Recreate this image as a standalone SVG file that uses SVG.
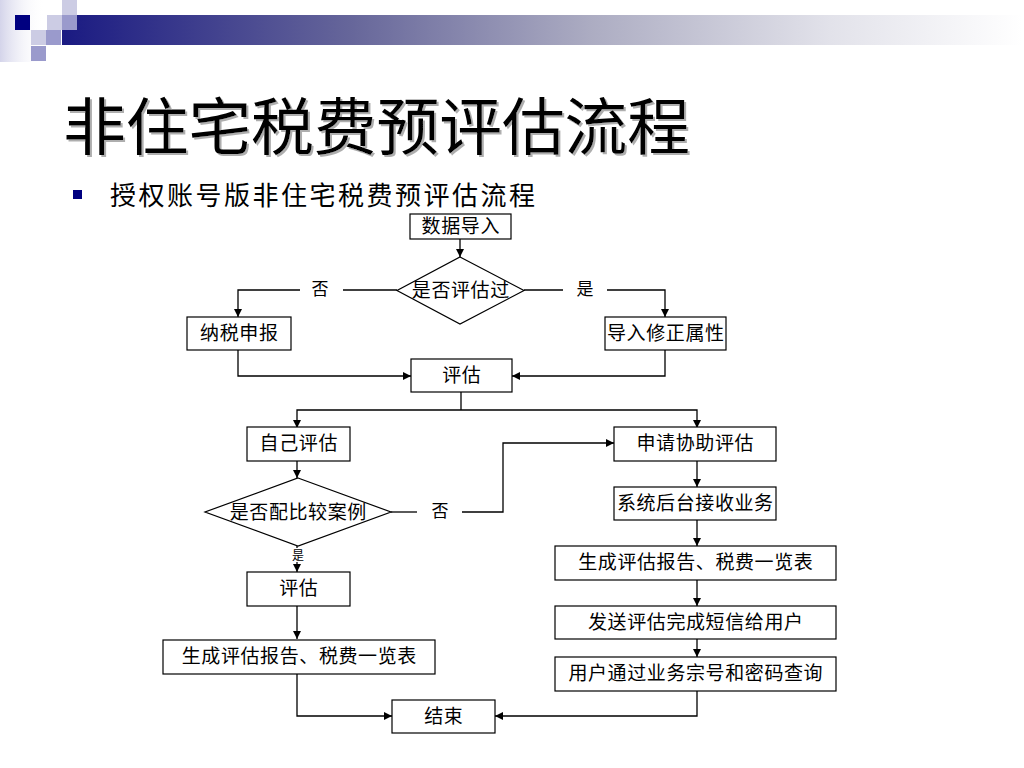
<svg xmlns="http://www.w3.org/2000/svg" width="1024" height="768" viewBox="0 0 1024 768">
<defs>
<linearGradient id="bar" x1="0" y1="0" x2="1" y2="0">
<stop offset="0" stop-color="#1a1a82"/>
<stop offset="0.3" stop-color="#66669a"/>
<stop offset="0.55" stop-color="#acacc2"/>
<stop offset="0.8" stop-color="#e2e2ea"/>
<stop offset="1" stop-color="#ffffff"/>
</linearGradient>
<linearGradient id="edge" x1="0" y1="0" x2="1" y2="0">
<stop offset="0" stop-color="#d4d4ea"/>
<stop offset="1" stop-color="#ffffff" stop-opacity="0"/>
</linearGradient>
<filter id="shadow" x="-5%" y="-10%" width="110%" height="130%">
<feDropShadow dx="2" dy="2" stdDeviation="0.6" flood-color="#9a9a9a" flood-opacity="0.8"/>
</filter>
<marker id="arr" viewBox="0 0 10 10" refX="10" refY="5" markerWidth="10" markerHeight="8" markerUnits="userSpaceOnUse" orient="auto">
<path d="M0,0 L10,5 L0,10 Z" fill="#000"/>
</marker>
</defs>
<style>
.box{fill:#fff;stroke:#000;stroke-width:1.2}
.t{font-family:"Noto Sans CJK SC","Noto Sans CJK JP",sans-serif;font-size:19px;fill:#000;text-anchor:middle;letter-spacing:0.6px}
.lbl{font-family:"Noto Sans CJK SC","Noto Sans CJK JP",sans-serif;font-size:17px;fill:#000;text-anchor:middle}
.c{fill:none;stroke:#000;stroke-width:1.3}
.ca{fill:none;stroke:#000;stroke-width:1.3;marker-end:url(#arr)}
</style>
<rect width="1024" height="768" fill="#fff"/>
<g id="decoration">
<rect x="0" y="0" width="45" height="62" fill="url(#edge)"/>
<rect x="62" y="15" width="960" height="30" fill="url(#bar)"/>
<rect x="15" y="15" width="15" height="15" fill="#000080"/>
<rect x="47" y="15" width="15" height="15" fill="#ccccE4"/>
<rect x="62" y="0" width="15" height="15" fill="#ccccE4"/>
<rect x="62" y="15" width="15" height="15" fill="#9a9acc"/>
<rect x="31" y="30" width="15" height="15" fill="#ccccE4"/>
<rect x="46" y="30" width="15" height="15" fill="#9a9acc"/>
<rect x="31" y="46" width="15" height="15" fill="#9a9acc"/>
</g>
<g id="title">
<text x="63" y="150" font-family="Noto Sans CJK SC,Noto Sans CJK JP,sans-serif" font-size="62" fill="#000" filter="url(#shadow)" textLength="627" lengthAdjust="spacingAndGlyphs">非住宅税费预评估流程</text>
</g>
<g id="subtitle">
<rect x="73" y="190" width="9" height="9" fill="#000080"/>
<text x="110" y="205" font-family="Noto Sans CJK SC,Noto Sans CJK JP,sans-serif" font-size="26" fill="#000" textLength="425" lengthAdjust="spacing">授权账号版非住宅税费预评估流程</text>
</g>
<g id="connectors">
<path class="ca" d="M460,239 V257"/>
<path class="c" d="M397,290 H343"/>
<path class="ca" d="M300,290 H238 V317"/>
<path class="c" d="M524,290 H563"/>
<path class="ca" d="M607,290 H665 V317"/>
<path class="ca" d="M238,350 V376 H411"/>
<path class="ca" d="M665,350 V376 H512"/>
<path class="c" d="M461,392 V410"/>
<path class="ca" d="M461,410 H297 V428"/>
<path class="ca" d="M461,410 H697 V428"/>
<path class="ca" d="M297,461 V478"/>
<path class="c" d="M391,512 H417"/>
<path class="ca" d="M462,512 H503 V443 H614"/>
<path class="c" d="M297,546 V548"/>
<path class="ca" d="M297,562 V572"/>
<path class="ca" d="M297,606 V639"/>
<path class="ca" d="M297,674 V716 H392"/>
<path class="ca" d="M697,461 V487"/>
<path class="ca" d="M697,520 V546"/>
<path class="ca" d="M697,580 V606"/>
<path class="ca" d="M697,639 V657"/>
<path class="ca" d="M697,691 V716 H495"/>
<text class="lbl" x="320" y="295">否</text>
<text class="lbl" x="585" y="295">是</text>
<text class="lbl" x="440" y="517">否</text>
<text class="lbl" x="298" y="560" style="font-size:12px">是</text>
</g>
<g id="n_import">
<rect class="box" x="410" y="214" width="101" height="25"/>
<text class="t" x="460.8" y="233">数据导入</text>
</g>
<g id="n_decision1">
<polygon class="box" points="460,257 524,290.5 460,324 397,290.5"/>
<text class="t" x="460.8" y="297">是否评估过</text>
</g>
<g id="n_declare">
<rect class="box" x="187" y="317" width="104" height="33"/>
<text class="t" x="239.3" y="340">纳税申报</text>
</g>
<g id="n_fix">
<rect class="box" x="605" y="317" width="121" height="33"/>
<text class="t" x="665.8" y="340">导入修正属性</text>
</g>
<g id="n_eval">
<rect class="box" x="411" y="359" width="101" height="33"/>
<text class="t" x="461.8" y="382">评估</text>
</g>
<g id="n_self">
<rect class="box" x="247" y="427" width="103" height="34"/>
<text class="t" x="298.8" y="450">自己评估</text>
</g>
<g id="n_apply">
<rect class="box" x="614" y="427" width="162" height="34"/>
<text class="t" x="695.3" y="450">申请协助评估</text>
</g>
<g id="n_decision2">
<polygon class="box" points="298,478 391,512 298,546 205,512"/>
<text class="t" x="298.3" y="519">是否配比较案例</text>
</g>
<g id="n_eval2">
<rect class="box" x="247" y="572" width="103" height="34"/>
<text class="t" x="298.8" y="595">评估</text>
</g>
<g id="n_report_left">
<rect class="box" x="163" y="640" width="272" height="34"/>
<text class="t" x="299.3" y="663">生成评估报告、税费一览表</text>
</g>
<g id="n_end">
<rect class="box" x="392" y="700" width="103" height="33"/>
<text class="t" x="443.8" y="723">结束</text>
</g>
<g id="n_backend">
<rect class="box" x="614" y="487" width="162" height="33"/>
<text class="t" x="695.3" y="510">系统后台接收业务</text>
</g>
<g id="n_report_right">
<rect class="box" x="555" y="546" width="281" height="34"/>
<text class="t" x="695.8" y="569">生成评估报告、税费一览表</text>
</g>
<g id="n_sms">
<rect class="box" x="555" y="606" width="281" height="33"/>
<text class="t" x="695.8" y="629">发送评估完成短信给用户</text>
</g>
<g id="n_query">
<rect class="box" x="555" y="657" width="281" height="34"/>
<text class="t" x="695.8" y="680">用户通过业务宗号和密码查询</text>
</g>
</svg>
